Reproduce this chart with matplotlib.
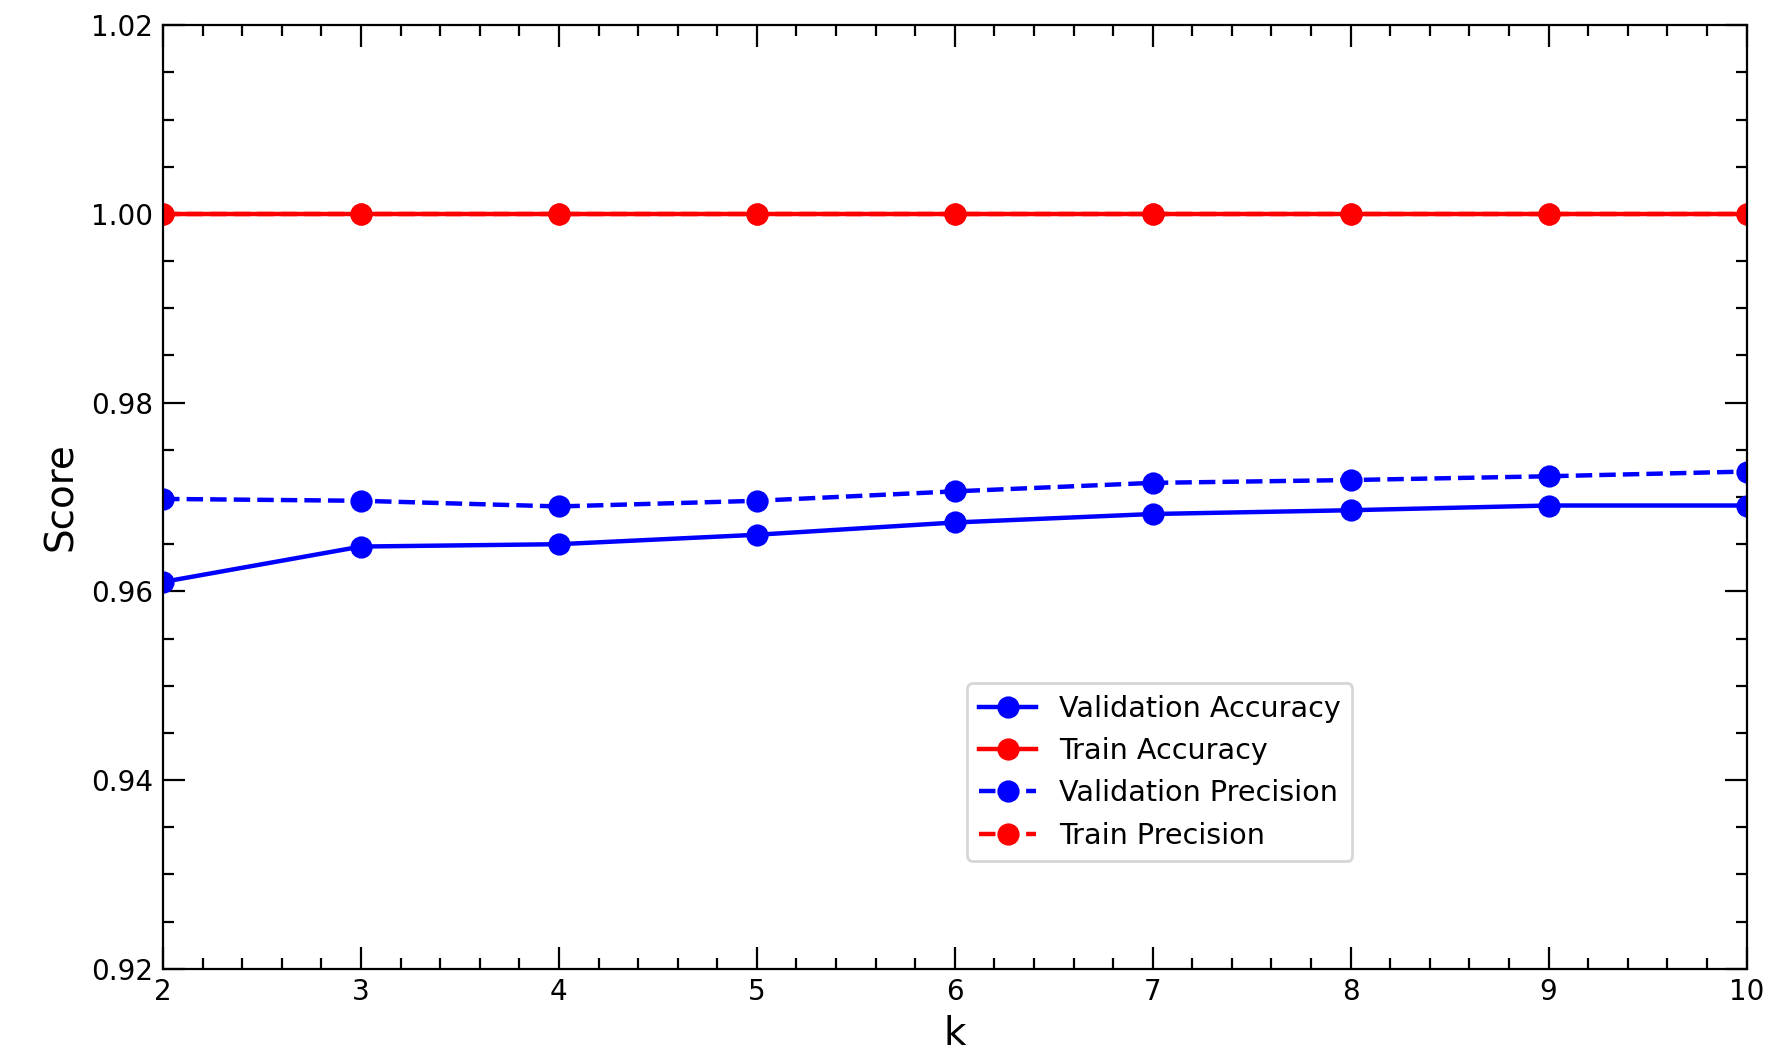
import matplotlib
matplotlib.use("Agg")
import matplotlib.pyplot as plt
from matplotlib.ticker import MultipleLocator

k = [2, 3, 4, 5, 6, 7, 8, 9, 10]
val_acc = [0.9610, 0.96475, 0.9650, 0.9660, 0.9673, 0.9682, 0.9686, 0.9691, 0.9691]
train_acc = [1.0, 1.0, 1.0, 1.0, 1.0, 1.0, 1.0, 1.0, 1.0]
val_prec = [0.9698, 0.9696, 0.9690, 0.9696, 0.9706, 0.9715, 0.9718, 0.9722, 0.9727]
train_prec = [1.0, 1.0, 1.0, 1.0, 1.0, 1.0, 1.0, 1.0, 1.0]

fig = plt.figure(figsize=(8.92, 5.265), dpi=200)
ax = fig.add_axes([0.0914, 0.080, 0.979 - 0.0914, 0.976 - 0.080])

ax.plot(k, val_acc, '-o', color='blue', lw=1.6, ms=7, label='Validation Accuracy')
ax.plot(k, train_acc, '-o', color='red', lw=1.6, ms=7, label='Train Accuracy')
ax.plot(k, val_prec, '--o', color='blue', lw=1.6, ms=7, label='Validation Precision')
ax.plot(k, train_prec, '--o', color='red', lw=1.6, ms=7, label='Train Precision')

ax.set_xlim(2, 10)
ax.set_ylim(0.92, 1.02)
ax.xaxis.set_major_locator(MultipleLocator(1))
ax.xaxis.set_minor_locator(MultipleLocator(0.2))
ax.yaxis.set_major_locator(MultipleLocator(0.02))
ax.yaxis.set_minor_locator(MultipleLocator(0.005))
ax.tick_params(which='both', direction='in', top=True, right=True)
ax.tick_params(which='major', length=8, width=0.8)
ax.tick_params(which='minor', length=4, width=0.8)
ax.set_xlabel('k', fontsize=14, labelpad=3)
ax.set_ylabel('Score', fontsize=14)

ax.legend(loc='lower left', bbox_to_anchor=(0.508, 0.114), borderaxespad=0,
          fontsize=10.3)

fig.savefig('out.png', dpi=200)
